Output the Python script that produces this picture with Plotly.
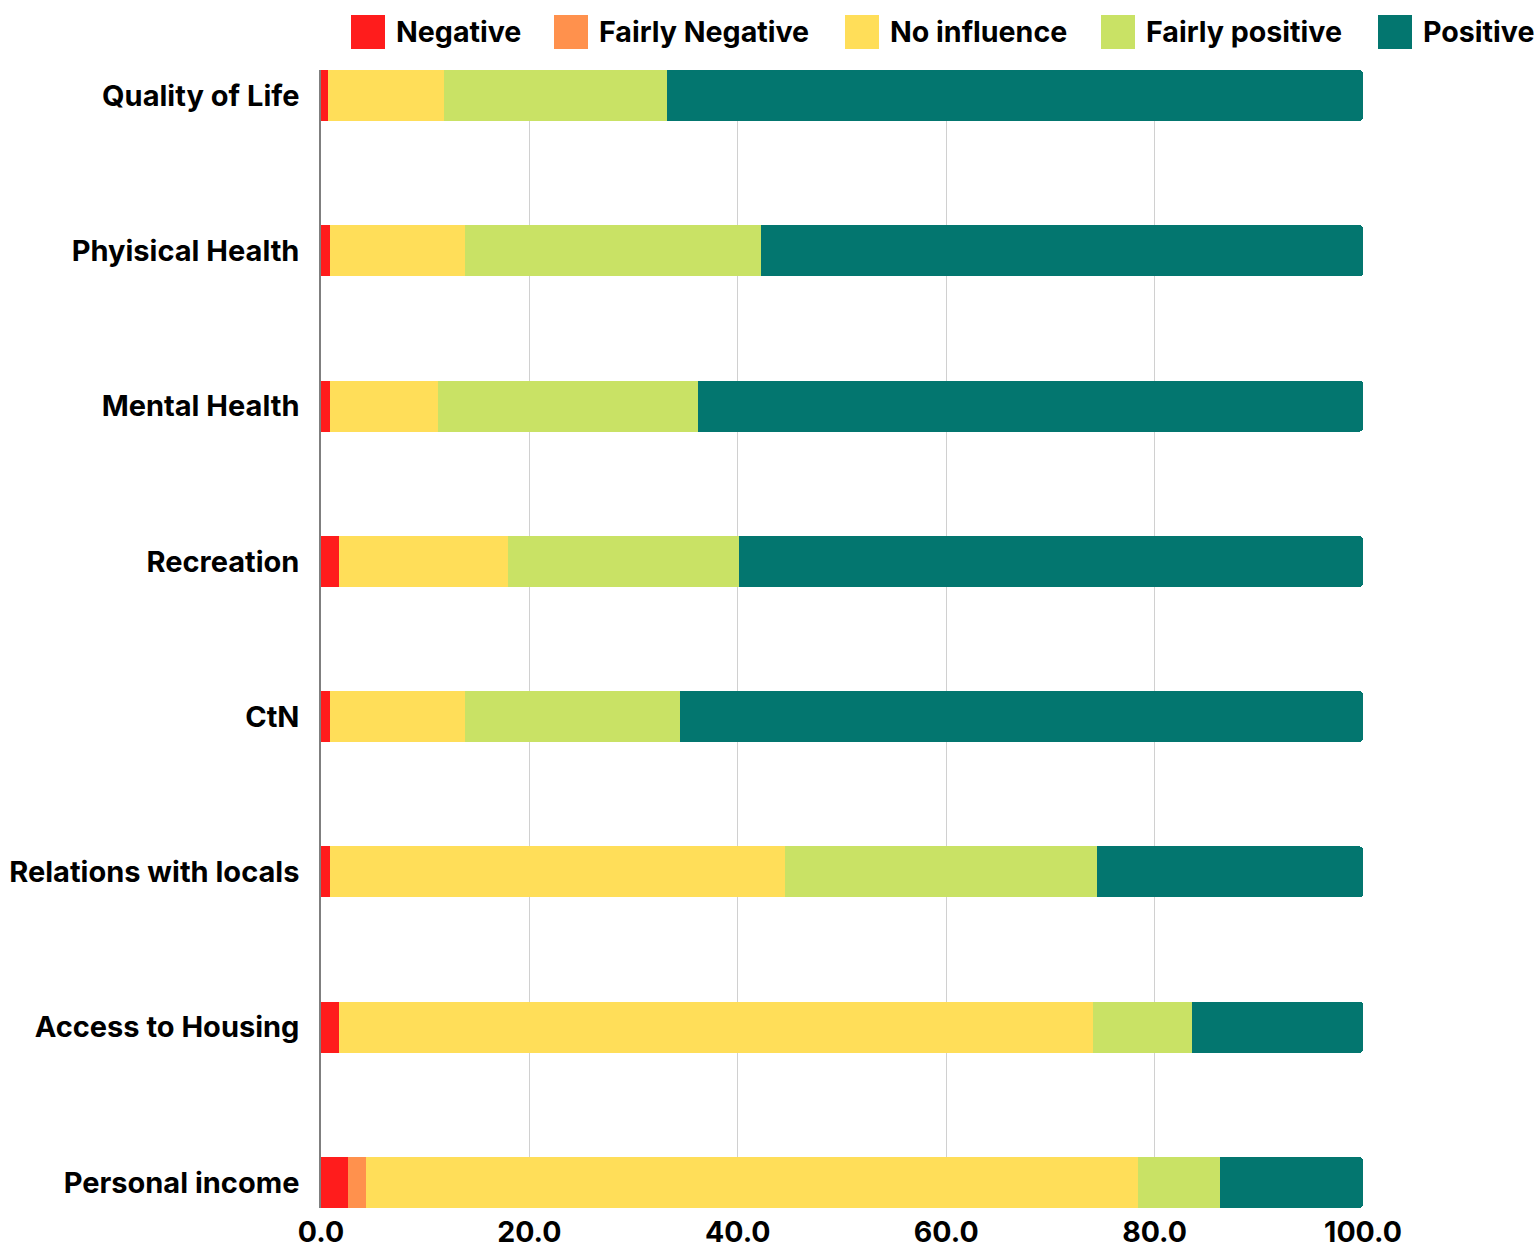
import plotly.graph_objects as go

# Survey topics (top to bottom) and share of answers per response level (%)
categories = [
    "Quality of Life",
    "Phyisical Health",
    "Mental Health",
    "Recreation",
    "CtN",
    "Relations with locals",
    "Access to Housing",
    "Personal income",
]

negative = [0.7, 0.9, 0.9, 1.7, 0.9, 0.9, 1.7, 2.6]
fairly_negative = [0.0, 0.0, 0.0, 0.0, 0.0, 0.0, 0.0, 1.7]
no_influence = [11.1, 12.9, 10.3, 16.2, 12.9, 43.6, 72.4, 74.1]
fairly_positive = [21.4, 28.4, 25.0, 22.2, 20.7, 30.0, 9.5, 7.9]
positive = [66.8, 57.8, 63.8, 59.9, 65.5, 25.5, 16.4, 13.7]

series_names = ["Negative", "Fairly Negative", "No influence", "Fairly positive", "Positive"]
series_values = [negative, fairly_negative, no_influence, fairly_positive, positive]
series_colors = ["#FF1C1C", "#FF914D", "#FFDE59", "#C9E265", "#03766F"]

x_ticks = [0, 20, 40, 60, 80, 100]

FONT = "Inter"
W, H = 1540, 1247
ML, MR, MT, MB = 321, 177, 70, 39
PW, PH = W - ML - MR, H - MT - MB

fig = go.Figure()
for name, vals, color in zip(series_names, series_values, series_colors):
    fig.add_trace(go.Bar(
        y=categories,
        x=vals,
        name=name,
        orientation="h",
        marker=dict(color=color, line=dict(width=0)),
        showlegend=False,
        hovertemplate="%{y}: %{x:.1f}<extra>" + name + "</extra>",
    ))

# Legend row drawn as swatches + labels above the plot
legend_left_px = [351, 554, 845, 1101, 1378]


def px_x(px):
    return (px - ML) / PW


def px_y(py):
    return (H - MB - py) / PH


shapes = []
annotations = []
for name, color, lx in zip(series_names, series_colors, legend_left_px):
    shapes.append(dict(
        type="rect", xref="paper", yref="paper",
        x0=px_x(lx), x1=px_x(lx + 34), y0=px_y(49), y1=px_y(15),
        fillcolor=color, line=dict(width=0), layer="above",
    ))
    annotations.append(dict(
        xref="paper", yref="paper", x=px_x(lx + 43), y=px_y(31),
        xanchor="left", yanchor="middle", showarrow=False, text=name,
        font=dict(family=FONT, size=28.6, color="#000000", weight="bold"),
    ))

n = len(categories)
half = 0.1645
fig.update_layout(
    width=W, height=H,
    margin=dict(l=ML, r=MR, t=MT, b=MB, autoexpand=False),
    paper_bgcolor="white", plot_bgcolor="white",
    barmode="stack",
    bargap=0.671,
    barcornerradius=4,
    shapes=shapes,
    annotations=annotations,
    font=dict(family=FONT, color="#000000"),
    xaxis=dict(
        range=[0, 100],
        tickvals=x_ticks,
        ticktext=[f"{v:.1f}" for v in x_ticks],
        showgrid=True, gridcolor="#d0d0d0", gridwidth=1,
        zeroline=False, showline=False,
        ticks="", ticklabelstandoff=4,
        tickfont=dict(family=FONT, size=28.5, color="#000000", weight="bold"),
        automargin=False,
    ),
    yaxis=dict(
        range=[n - 1 + half, -half],
        showgrid=False, zeroline=False,
        showline=True, linecolor="#7f7f7f", linewidth=1.5,
        ticks="", ticklabelstandoff=14,
        tickfont=dict(family=FONT, size=29, color="#000000", weight="bold"),
        automargin=False,
    ),
)

fig.write_html("out.html")
